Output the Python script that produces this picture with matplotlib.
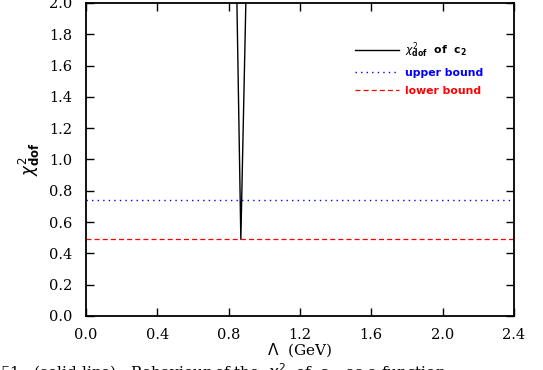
import numpy as np
import matplotlib
matplotlib.use("Agg")
import matplotlib.pyplot as plt

# chi^2 per dof of c2 vs Lambda (only the dip is inside the window)
lam = [0.84, 0.869, 0.90]
chi2 = [2.48, 0.49, 2.16]
upper_bound = 0.74
lower_bound = 0.49

xticks = [0.0, 0.4, 0.8, 1.2, 1.6, 2.0, 2.4]
yticks = [0.0, 0.2, 0.4, 0.6, 0.8, 1.0, 1.2, 1.4, 1.6, 1.8, 2.0]

plt.rcParams['font.family'] = ['DejaVu Serif']
plt.rcParams['mathtext.fontset'] = 'dejavusans'

fig = plt.figure(figsize=(5.43, 3.70), dpi=100)
ax = fig.add_axes([0.158, 0.146, 0.9466 - 0.158, 0.992 - 0.146])

ax.plot(lam, chi2, color='black', lw=1.0, label=r'$\chi^2_{\mathbf{dof}}$  of  $\mathbf{c_2}$')
ax.axhline(upper_bound, color='blue', ls=(0, (1, 3)), lw=1.0, label='upper bound')
ax.axhline(lower_bound, color='red', ls=(0, (4, 2.5)), lw=0.9, label='lower bound')

ax.set_xlim(0, 2.4)
ax.set_ylim(0, 2.0)
ax.set_xticks(xticks)
ax.set_yticks(yticks)
ax.set_xticklabels(['%.1f' % v for v in xticks])
ax.set_yticklabels(['%.1f' % v for v in yticks])
ax.tick_params(direction='in', top=True, right=True, length=6, width=1.0, labelsize=10.5)
ax.tick_params(axis='x', pad=9)
ax.tick_params(axis='y', pad=10)
for s in ax.spines.values():
    s.set_linewidth(1.3)

ax.set_xlabel(r'$\Lambda$  (GeV)', fontsize=11, labelpad=-1)
ax.set_ylabel(r'$\chi^2_{\mathbf{dof}}$', fontsize=12, labelpad=5)

leg = ax.legend(loc='upper left', bbox_to_anchor=(0.607, 0.91), frameon=False,
                handlelength=4.0, handletextpad=0.6, labelspacing=0.72,
                prop={'family': 'DejaVu Sans', 'weight': 'bold', 'size': 7.8})
for t, c in zip(leg.get_texts(), ['black', 'blue', 'red']):
    t.set_color(c)

# caption line cut off at the bottom of the picture
fig.text(0.0, 0.024, r'51.  (solid line).  Behaviour of the  $\chi^2$  of  c$_2$  as a function',
         fontsize=11, va='top', ha='left')

fig.savefig('out.png', dpi=100)
